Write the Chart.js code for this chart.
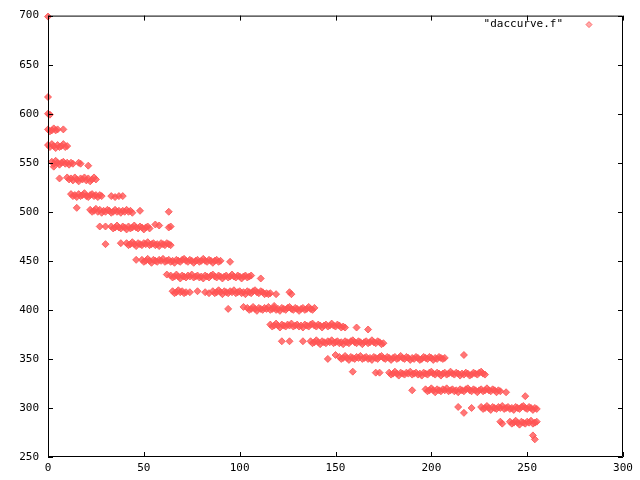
<!DOCTYPE html>
<html>
<head>
<meta charset="utf-8">
<script src="https://cdn.jsdelivr.net/npm/chart.js@4/dist/chart.umd.min.js"></script>
<style>
  html, body { margin: 0; padding: 0; background: #fff; }
  canvas { display: block; }
</style>
</head>
<body>
<canvas id="dacChart" width="640" height="480"></canvas>
<script>
// DAC code (x) and measured value (y), grouped by the step they sit on
const x699 = [0];
const y699 = [699];
const x617 = [0];
const y617 = [617];
const x600 = [0, 1];
const y600 = [600, 599];
const x584 = [0, 1, 2, 3, 4, 5, 8];
const y584 = [584, 582, 583, 585, 583, 584, 584];
const x568 = [0, 1, 2, 3, 4, 5, 6, 7, 8, 9, 10];
const y568 = [568, 566, 569, 567, 565, 568, 566, 567, 569, 566, 567];
const x550 = [2, 3, 4, 5, 6, 7, 8, 9, 10, 11, 12, 13, 16, 17, 21, 3];
const y550 = [551, 549, 552, 550, 548, 550, 551, 549, 550, 548, 550, 549, 550, 549, 547, 546];
const x534 = [6, 10, 11, 12, 13, 14, 15, 16, 17, 18, 19, 20, 21, 22, 23, 24, 25];
const y534 = [534, 535, 533, 534, 532, 535, 533, 531, 534, 533, 535, 532, 534, 531, 533, 535, 533];
const x517 = [12, 13, 14, 15, 16, 17, 18, 19, 20, 21, 22, 23, 24, 25, 26, 27, 28, 33, 35, 37, 39];
const y517 = [518, 516, 517, 515, 518, 516, 517, 519, 516, 515, 517, 518, 516, 517, 515, 517, 516, 516, 515, 516, 516];
const x501 = [15, 22, 23, 24, 25, 26, 27, 28, 29, 30, 31, 32, 33, 34, 35, 36, 37, 38, 39, 40, 41, 42, 43, 44, 48, 63];
const y501 = [504, 502, 500, 501, 503, 500, 502, 499, 501, 500, 502, 501, 499, 500, 502, 500, 501, 499, 501, 500, 502, 500, 501, 499, 501, 500];
const x484 = [27, 30, 33, 34, 35, 36, 37, 38, 39, 40, 41, 42, 43, 44, 45, 46, 47, 48, 49, 50, 51, 52, 53, 56, 58, 63, 64];
const y484 = [485, 485, 485, 483, 484, 486, 484, 483, 485, 484, 482, 485, 483, 484, 486, 484, 483, 485, 484, 482, 484, 485, 483, 487, 486, 484, 485];
const x467 = [30, 38, 41, 42, 43, 44, 45, 46, 47, 48, 49, 50, 51, 52, 53, 54, 55, 56, 57, 58, 59, 60, 61, 62, 63, 64];
const y467 = [467, 468, 468, 466, 467, 469, 467, 465, 468, 467, 466, 468, 467, 469, 466, 467, 468, 466, 467, 465, 468, 467, 466, 468, 467, 466];
const x450 = [46, 49, 50, 51, 52, 53, 54, 55, 56, 57, 58, 59, 60, 61, 62, 63, 64, 65, 66, 67, 68, 69, 70, 71, 72, 73, 74, 75, 76, 77, 78, 79, 80, 81, 82, 83, 84, 85, 86, 87, 88, 89, 90, 95];
const y450 = [451, 451, 449, 450, 452, 450, 448, 451, 450, 449, 451, 450, 452, 449, 450, 451, 449, 450, 448, 451, 450, 449, 451, 452, 450, 449, 451, 450, 448, 450, 451, 449, 450, 452, 450, 449, 451, 450, 448, 450, 451, 449, 450, 449];
const x434 = [62, 64, 65, 66, 67, 68, 69, 70, 71, 72, 73, 74, 75, 76, 77, 78, 79, 80, 81, 82, 83, 84, 85, 86, 87, 88, 89, 90, 91, 92, 93, 94, 95, 96, 97, 98, 99, 100, 101, 102, 103, 104, 105, 106, 111];
const y434 = [436, 435, 433, 434, 436, 434, 432, 435, 434, 433, 435, 434, 436, 433, 434, 435, 433, 434, 432, 435, 434, 433, 435, 436, 434, 433, 435, 434, 432, 434, 435, 433, 434, 436, 434, 433, 435, 434, 432, 434, 435, 433, 434, 435, 432];
const x418 = [65, 66, 67, 68, 69, 70, 71, 72, 74, 78, 82, 84, 86, 87, 88, 89, 90, 91, 92, 93, 94, 95, 96, 97, 98, 99, 100, 101, 102, 103, 104, 105, 106, 107, 108, 109, 110, 111, 112, 113, 114, 115, 116, 119, 126, 127];
const y418 = [419, 417, 418, 420, 418, 419, 417, 418, 418, 419, 418, 417, 419, 417, 418, 420, 418, 416, 419, 418, 417, 419, 418, 420, 417, 418, 419, 417, 418, 416, 419, 418, 417, 419, 420, 418, 417, 419, 418, 416, 417, 416, 417, 416, 418, 416];
const x401 = [94, 102, 104, 105, 106, 107, 108, 109, 110, 111, 112, 113, 114, 115, 116, 117, 118, 119, 120, 121, 122, 123, 124, 125, 126, 127, 128, 129, 130, 131, 132, 133, 134, 135, 136, 137, 138, 139, 118];
const y401 = [401, 403, 402, 400, 401, 403, 401, 399, 402, 401, 400, 402, 401, 403, 400, 401, 402, 400, 401, 399, 402, 401, 400, 402, 403, 401, 400, 402, 401, 399, 401, 402, 400, 401, 403, 401, 400, 402, 404];
const x384 = [116, 117, 118, 119, 120, 121, 122, 123, 124, 125, 126, 127, 128, 129, 130, 131, 132, 133, 134, 135, 136, 137, 138, 139, 140, 141, 142, 143, 144, 145, 146, 147, 148, 149, 150, 151, 152, 153, 154, 155, 161, 167];
const y384 = [385, 383, 384, 386, 384, 382, 385, 384, 383, 385, 384, 386, 383, 384, 385, 383, 384, 382, 385, 384, 383, 385, 386, 384, 383, 385, 384, 382, 384, 385, 383, 384, 386, 384, 383, 385, 384, 382, 383, 382, 382, 380];
const x367 = [122, 126, 133, 137, 138, 139, 140, 141, 142, 143, 144, 145, 146, 147, 148, 149, 150, 151, 152, 153, 154, 155, 156, 157, 158, 159, 160, 161, 162, 163, 164, 165, 166, 167, 168, 169, 170, 171, 172, 173, 174, 175];
const y367 = [368, 368, 368, 368, 366, 367, 369, 367, 365, 368, 367, 366, 368, 367, 369, 366, 367, 368, 366, 367, 365, 368, 367, 366, 368, 369, 367, 366, 368, 367, 365, 367, 368, 366, 367, 369, 367, 366, 368, 367, 365, 366];
const x351 = [146, 150, 152, 153, 154, 155, 156, 157, 158, 159, 160, 161, 162, 163, 164, 165, 166, 167, 168, 169, 170, 171, 172, 173, 174, 175, 176, 177, 178, 179, 180, 181, 182, 183, 184, 185, 186, 187, 188, 189, 190, 191, 192, 193, 194, 195, 196, 197, 198, 199, 200, 201, 202, 203, 204, 205, 206, 207, 217];
const y351 = [350, 354, 352, 350, 351, 353, 351, 349, 352, 351, 350, 352, 351, 353, 350, 351, 352, 350, 351, 349, 352, 351, 350, 352, 353, 351, 350, 352, 351, 349, 351, 352, 350, 351, 353, 351, 350, 352, 351, 349, 351, 350, 352, 351, 349, 350, 352, 351, 350, 352, 351, 349, 351, 350, 352, 351, 350, 351, 354];
const x335 = [159, 171, 173, 178, 179, 180, 181, 182, 183, 184, 185, 186, 187, 188, 189, 190, 191, 192, 193, 194, 195, 196, 197, 198, 199, 200, 201, 202, 203, 204, 205, 206, 207, 208, 209, 210, 211, 212, 213, 214, 215, 216, 217, 218, 219, 220, 221, 222, 223, 224, 225, 226, 227, 228];
const y335 = [337, 336, 336, 336, 334, 335, 337, 335, 333, 336, 335, 334, 336, 335, 337, 334, 335, 336, 334, 335, 333, 336, 335, 334, 336, 337, 335, 334, 336, 335, 333, 335, 336, 334, 335, 337, 335, 334, 336, 335, 333, 335, 334, 336, 335, 333, 334, 336, 335, 334, 336, 337, 335, 334];
const x318 = [190, 197, 198, 199, 200, 201, 202, 203, 204, 205, 206, 207, 208, 209, 210, 211, 212, 213, 214, 215, 216, 217, 218, 219, 220, 221, 222, 223, 224, 225, 226, 227, 228, 229, 230, 231, 232, 233, 234, 235, 236, 239, 249];
const y318 = [318, 319, 317, 318, 320, 318, 316, 319, 318, 317, 319, 318, 320, 317, 318, 319, 317, 318, 316, 319, 318, 317, 319, 320, 318, 317, 319, 318, 316, 318, 319, 317, 318, 320, 318, 317, 319, 318, 316, 318, 317, 316, 312];
const x300 = [214, 217, 221, 226, 227, 228, 229, 230, 231, 232, 233, 234, 235, 236, 237, 238, 239, 240, 241, 242, 243, 244, 245, 246, 247, 248, 249, 250, 251, 252, 253, 254, 255];
const y300 = [301, 295, 300, 301, 299, 300, 302, 300, 298, 301, 300, 299, 301, 300, 302, 299, 300, 301, 299, 300, 298, 301, 300, 299, 301, 302, 300, 299, 301, 300, 298, 300, 299];
const x285 = [236, 237, 241, 242, 243, 244, 245, 246, 247, 248, 249, 250, 251, 252, 253, 254, 255];
const y285 = [286, 284, 286, 284, 285, 287, 285, 283, 286, 285, 284, 286, 285, 287, 284, 285, 286];
const x270 = [253, 254];
const y270 = [272, 268];

const xTicks = [0, 50, 100, 150, 200, 250, 300];
const yTicks = [250, 300, 350, 400, 450, 500, 550, 600, 650, 700];
const seriesName = '"daccurve.f"';

const steps = [
  [x699, y699], [x617, y617], [x600, y600], [x584, y584], [x568, y568],
  [x550, y550], [x534, y534], [x517, y517], [x501, y501], [x484, y484],
  [x467, y467], [x450, y450], [x434, y434], [x418, y418], [x401, y401],
  [x384, y384], [x367, y367], [x351, y351], [x335, y335], [x318, y318],
  [x300, y300], [x285, y285], [x270, y270]
];
const points = [];
steps.forEach(([xs, ys]) => {
  xs.forEach((x, i) => points.push({ x: x, y: ys[i] }));
});

const monoFont = { family: '"DejaVu Sans Mono", monospace', size: 11 };

// gnuplot style frame: full box with inward ticks on all four sides, plus the key
const framePlugin = {
  id: 'frame',
  afterDraw(chart) {
    const { ctx, chartArea: a, scales } = chart;
    const len = 5;
    ctx.save();
    ctx.strokeStyle = '#000';
    ctx.lineWidth = 1;
    ctx.beginPath();
    ctx.rect(a.left + 0.5, a.top + 0.5, a.right - a.left - 1, a.bottom - a.top - 1);
    xTicks.forEach(v => {
      const px = Math.round(scales.x.getPixelForValue(v)) + 0.5;
      ctx.moveTo(px, a.bottom); ctx.lineTo(px, a.bottom - len);
      ctx.moveTo(px, a.top); ctx.lineTo(px, a.top + len);
    });
    yTicks.forEach(v => {
      const py = Math.round(scales.y.getPixelForValue(v)) + 0.5;
      ctx.moveTo(a.left, py); ctx.lineTo(a.left + len, py);
      ctx.moveTo(a.right, py); ctx.lineTo(a.right - len, py);
    });
    ctx.stroke();

    // key in the top right corner
    const keyY = a.top + 9;
    const markX = a.right - 34;
    ctx.fillStyle = '#000';
    ctx.font = monoFont.size + 'px ' + monoFont.family;
    ctx.textAlign = 'right';
    ctx.textBaseline = 'middle';
    ctx.fillText(seriesName, markX - 26, keyY);
    ctx.fillStyle = 'rgba(255, 85, 85, 0.5)';
    ctx.strokeStyle = 'rgba(255, 85, 85, 0.8)';
    ctx.beginPath();
    ctx.moveTo(markX - 3, keyY); ctx.lineTo(markX, keyY - 3);
    ctx.lineTo(markX + 3, keyY); ctx.lineTo(markX, keyY + 3);
    ctx.closePath();
    ctx.fill(); ctx.stroke();
    ctx.restore();
  }
};

new Chart(document.getElementById('dacChart'), {
  type: 'scatter',
  data: {
    datasets: [{
      label: seriesName,
      data: points,
      clip: false,
      pointStyle: 'rectRot',
      pointRadius: 3.5,
      pointBorderWidth: 1,
      backgroundColor: 'rgba(255, 85, 85, 0.8)',
      borderColor: 'rgba(255, 85, 85, 0.85)'
    }]
  },
  options: {
    responsive: false,
    animation: false,
    layout: { padding: { top: 14, right: 17, left: 0, bottom: 0 } },
    plugins: { legend: { display: false }, tooltip: { enabled: false } },
    scales: {
      x: {
        type: 'linear', min: 0, max: 300,
        afterBuildTicks: s => { s.ticks = xTicks.map(v => ({ value: v })); },
        afterFit: s => { s.height = 23; },
        grid: { display: false, drawTicks: false },
        border: { display: false },
        ticks: { color: '#000', font: monoFont, padding: 5, maxRotation: 0, autoSkip: false }
      },
      y: {
        type: 'linear', min: 250, max: 700,
        afterBuildTicks: s => { s.ticks = yTicks.map(v => ({ value: v })); },
        afterFit: s => { s.width = 48; },
        grid: { display: false, drawTicks: false },
        border: { display: false },
        ticks: { color: '#000', font: monoFont, padding: 9, autoSkip: false }
      }
    }
  },
  plugins: [framePlugin]
});
</script>
</body>
</html>
